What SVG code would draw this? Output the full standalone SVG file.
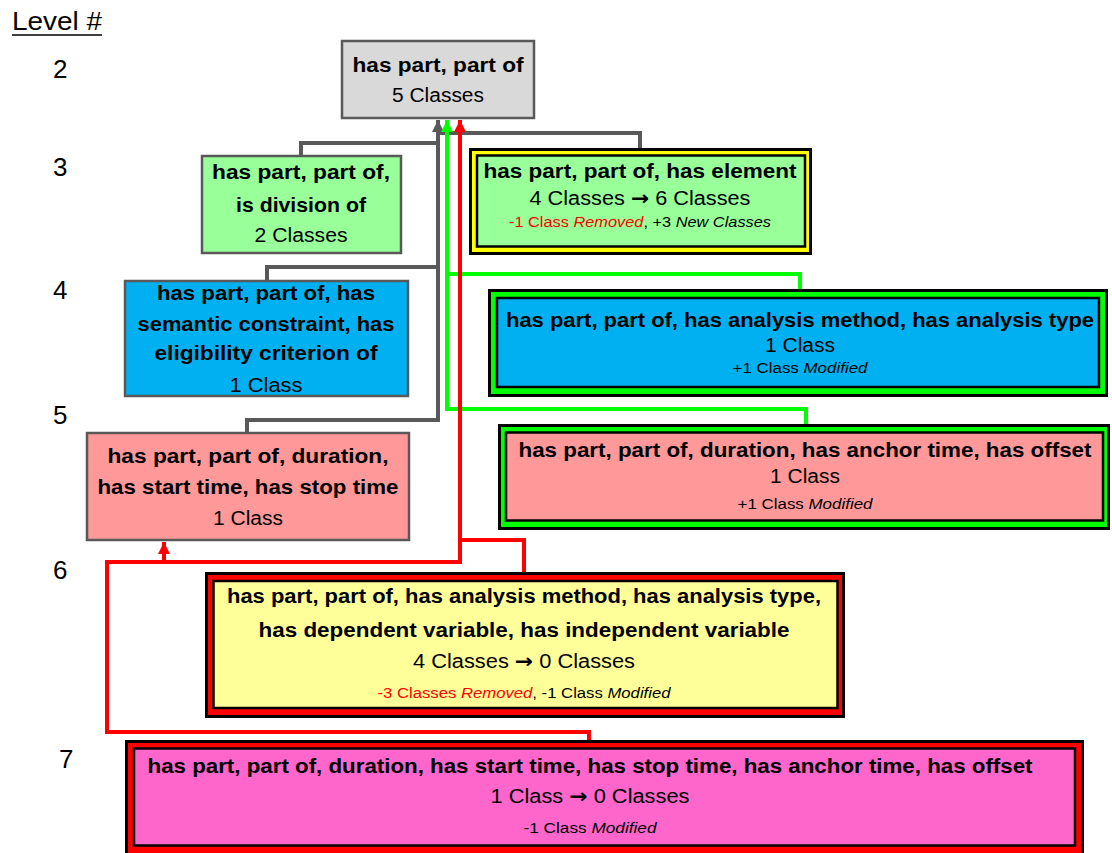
<svg xmlns="http://www.w3.org/2000/svg" width="1112" height="853" viewBox="0 0 1112 853">
<style>
text{font-family:"Liberation Sans",Arial,sans-serif;fill:#000;text-anchor:middle}
.b{font-weight:bold;font-size:20px}
.n{font-size:20px}
.s{font-size:14px}
.i{font-style:italic}
.r{fill:#ff0000}
.arr{font-family:"DejaVu Sans",sans-serif;font-weight:bold}
.lv{font-size:26px;text-anchor:start}
.box{stroke:#595959;stroke-width:2.5}
.outer{stroke:#000;stroke-width:3}
.inner{stroke:#000;stroke-width:2.5}
.cg{fill:none;stroke:#595959;stroke-width:4}
.cgr{fill:none;stroke:#00ff00;stroke-width:4}
.cr{fill:none;stroke:#ff0000;stroke-width:4}
</style>
<defs>
<marker id="ag" markerUnits="userSpaceOnUse" markerWidth="14" markerHeight="14" viewBox="0 0 14 14" refX="12" refY="7" orient="auto"><path d="M0,1 L12,7 L0,13 Z" fill="#595959"/></marker>
<marker id="agr" markerUnits="userSpaceOnUse" markerWidth="14" markerHeight="14" viewBox="0 0 14 14" refX="12" refY="7" orient="auto"><path d="M0,1 L12,7 L0,13 Z" fill="#00ff00"/></marker>
<marker id="ar" markerUnits="userSpaceOnUse" markerWidth="14" markerHeight="14" viewBox="0 0 14 14" refX="12" refY="7" orient="auto"><path d="M0,1 L12,7 L0,13 Z" fill="#ff0000"/></marker>
</defs>

<g id="levels">
<text class="lv" x="12" y="30" textLength="90" lengthAdjust="spacingAndGlyphs">Level #</text>
<line x1="12" y1="35" x2="102" y2="35" stroke="#000" stroke-width="1.5"/>
<text class="lv" x="53" y="78">2</text>
<text class="lv" x="53" y="176">3</text>
<text class="lv" x="53" y="299">4</text>
<text class="lv" x="53" y="424">5</text>
<text class="lv" x="53" y="579">6</text>
<text class="lv" x="59" y="768">7</text>
</g>

<g id="connectors">
<path class="cg" d="M301,156 V143 H438"/>
<path class="cg" d="M640,149 V133 H438"/>
<path class="cg" d="M267,281 V267 H438"/>
<path class="cg" d="M247,433 V420 H438 V120" marker-end="url(#ag)"/>
<path class="cgr" d="M800,290 V274 H447"/>
<path class="cgr" d="M806,425 V409 H447 V120" marker-end="url(#agr)"/>
<path class="cr" d="M524,573 V540 H460"/>
<path class="cr" d="M589,741 V732 H107 V562 H460 V120" marker-end="url(#ar)"/>
<path class="cr" d="M164,562 V542" marker-end="url(#ar)"/>
</g>

<g id="n2">
<rect class="box" x="342" y="41" width="192" height="77" fill="#d9d9d9"/>
<text class="b" x="438" y="72" textLength="171" lengthAdjust="spacingAndGlyphs">has part, part of</text>
<text class="n" x="438" y="102" textLength="92" lengthAdjust="spacingAndGlyphs">5 Classes</text>
</g>

<g id="n3a">
<rect class="box" x="202" y="156" width="199" height="97" fill="#99ff99"/>
<text class="b" x="301" y="179" textLength="178" lengthAdjust="spacingAndGlyphs">has part, part of,</text>
<text class="b" x="301" y="212" textLength="130" lengthAdjust="spacingAndGlyphs">is division of</text>
<text class="n" x="301" y="242" textLength="93" lengthAdjust="spacingAndGlyphs">2 Classes</text>
</g>

<g id="n3b">
<rect class="outer" x="470.5" y="149.5" width="340" height="104" fill="#ffff00"/>
<rect class="inner" x="477" y="155.5" width="328" height="91" fill="#99ff99"/>
<text class="b" x="640" y="178" textLength="313" lengthAdjust="spacingAndGlyphs">has part, part of, has element</text>
<text class="n" x="640" y="205" textLength="221" lengthAdjust="spacingAndGlyphs">4 Classes <tspan class="arr">→</tspan> 6 Classes</text>
<text class="s" x="640" y="227" textLength="262" lengthAdjust="spacingAndGlyphs"><tspan class="r">-1 Class </tspan><tspan class="r i">Removed</tspan>, +3 <tspan class="i">New Classes</tspan></text>
</g>

<g id="n4a">
<rect class="box" x="125" y="281" width="283" height="115" fill="#00b0f0"/>
<text class="b" x="266" y="300" textLength="218" lengthAdjust="spacingAndGlyphs">has part, part of, has</text>
<text class="b" x="266" y="331" textLength="257" lengthAdjust="spacingAndGlyphs">semantic constraint, has</text>
<text class="b" x="266" y="360" textLength="223" lengthAdjust="spacingAndGlyphs">eligibility criterion of</text>
<text class="n" x="266" y="392" textLength="73" lengthAdjust="spacingAndGlyphs">1 Class</text>
</g>

<g id="n4b">
<rect class="outer" x="489.5" y="290.5" width="617" height="105" fill="#00ff00"/>
<rect class="inner" x="497" y="298" width="602" height="89" fill="#00b0f0"/>
<text class="b" x="800" y="327" textLength="588" lengthAdjust="spacingAndGlyphs">has part, part of, has analysis method, has analysis type</text>
<text class="n" x="800" y="352" textLength="70" lengthAdjust="spacingAndGlyphs">1 Class</text>
<text class="s" x="800" y="373" textLength="135" lengthAdjust="spacingAndGlyphs">+1 Class <tspan class="i">Modified</tspan></text>
</g>

<g id="n5a">
<rect class="box" x="87" y="433" width="322" height="107" fill="#ff9999"/>
<text class="b" x="248" y="463" textLength="281" lengthAdjust="spacingAndGlyphs">has part, part of, duration,</text>
<text class="b" x="248" y="494" textLength="301" lengthAdjust="spacingAndGlyphs">has start time, has stop time</text>
<text class="n" x="248" y="525" textLength="70" lengthAdjust="spacingAndGlyphs">1 Class</text>
</g>

<g id="n5b">
<rect class="outer" x="499.5" y="425.5" width="609" height="103" fill="#00ff00"/>
<rect class="inner" x="506" y="432.5" width="597" height="88" fill="#ff9999"/>
<text class="b" x="805" y="457" textLength="573" lengthAdjust="spacingAndGlyphs">has part, part of, duration, has anchor time, has offset</text>
<text class="n" x="805" y="483" textLength="70" lengthAdjust="spacingAndGlyphs">1 Class</text>
<text class="s" x="805" y="509" textLength="135" lengthAdjust="spacingAndGlyphs">+1 Class <tspan class="i">Modified</tspan></text>
</g>

<g id="n6">
<rect class="outer" x="206.5" y="573.5" width="637" height="143" fill="#ff0000"/>
<rect class="inner" x="213.5" y="581" width="624" height="127" fill="#ffff99"/>
<text class="b" x="524" y="603" textLength="594" lengthAdjust="spacingAndGlyphs">has part, part of, has analysis method, has analysis type,</text>
<text class="b" x="524" y="637" textLength="531" lengthAdjust="spacingAndGlyphs">has dependent variable, has independent variable</text>
<text class="n" x="524" y="668" textLength="222" lengthAdjust="spacingAndGlyphs">4 Classes <tspan class="arr">→</tspan> 0 Classes</text>
<text class="s" x="524" y="698" textLength="293" lengthAdjust="spacingAndGlyphs"><tspan class="r">-3 Classes </tspan><tspan class="r i">Removed</tspan>, -1 Class <tspan class="i">Modified</tspan></text>
</g>

<g id="n7">
<rect class="outer" x="126.5" y="741.5" width="956" height="116" fill="#ff0000"/>
<rect class="inner" x="134" y="748.5" width="941" height="97" fill="#ff66cc"/>
<text class="b" x="590" y="773" textLength="885" lengthAdjust="spacingAndGlyphs">has part, part of, duration, has start time, has stop time, has anchor time, has offset</text>
<text class="n" x="590" y="803" textLength="199" lengthAdjust="spacingAndGlyphs">1 Class <tspan class="arr">→</tspan> 0 Classes</text>
<text class="s" x="590" y="833" textLength="133" lengthAdjust="spacingAndGlyphs">-1 Class <tspan class="i">Modified</tspan></text>
</g>
</svg>
